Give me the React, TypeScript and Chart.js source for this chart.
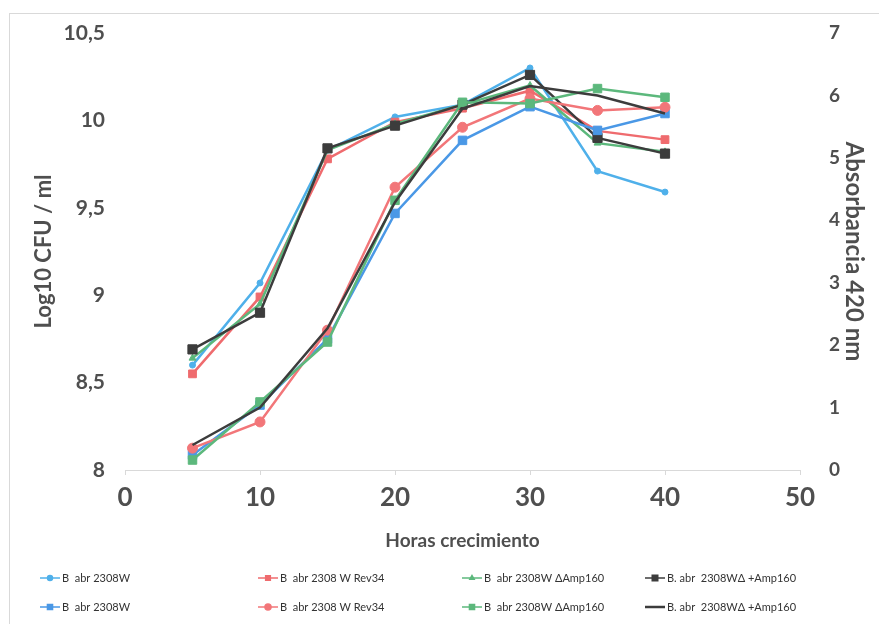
import React, { useEffect, useRef } from "react";
import { Chart, registerables } from "chart.js";
import { drawPoint } from "chart.js/helpers";

Chart.register(...registerables);

// ---- data ----
const hours = [5, 10, 15, 20, 25, 30, 35, 40];

// Log10 CFU / ml (left axis)
const cfu2308W = [8.6, 9.07, 9.83, 10.02, 10.09, 10.3, 9.71, 9.59];
const cfuRev34 = [8.55, 8.99, 9.78, 9.99, 10.07, 10.17, 9.94, 9.89];
const cfuDelta = [8.64, 8.95, 9.83, 9.98, 10.09, 10.2, 9.87, 9.82];
const cfuDeltaAmp = [8.69, 8.9, 9.84, 9.97, 10.09, 10.26, 9.9, 9.81];

// Absorbancia 420 nm (right axis)
const abs2308W = [0.24, 1.04, 2.1, 4.11, 5.28, 5.82, 5.44, 5.71];
const absRev34 = [0.35, 0.77, 2.24, 4.53, 5.49, 5.95, 5.76, 5.81];
const absDelta = [0.16, 1.09, 2.05, 4.32, 5.89, 5.87, 6.11, 5.97];
const absDeltaAmp = [0.4, 1.0, 2.27, 4.29, 5.79, 6.15, 6.0, 5.71];

const labelW = "B  abr 2308W";
const labelRev = "B  abr 2308 W Rev34";
const labelDelta = "B  abr 2308W \u0394Amp160";
const labelDeltaAmp = "B. abr  2308W\u0394 +Amp160";

const xTicks = [0, 10, 20, 30, 40, 50];
const cfuTicks = [8, 8.5, 9, 9.5, 10, 10.5];
const absTicks = [0, 1, 2, 3, 4, 5, 6, 7];

const xTitle = "Horas crecimiento";
const leftTitle = "Log10 CFU / ml";
const rightTitle = "Absorbancia 420 nm";

// ---- styles ----
const C_LBLUE = "#4fb0ea";
const C_BLUE = "#4a98e6";
const C_RED = "#ef6b6e";
const C_RED2 = "#f27679";
const C_GREEN = "#5cb87c";
const C_BLACK = "#3c3c3c";
const TXT = "#4f4f4f";
const FONT = "Lato, 'Open Sans', sans-serif";

const LEGEND_COLS = [40, 258, 462, 645];
const LEGEND_ROWS = [578, 607];
const LEGEND_LINE = 20;

const pts = (ys: number[]) => hours.map((h, i) => ({ x: h, y: ys[i] }));

const legendPlugin = {
  id: "columnLegend",
  afterDraw(chart: any) {
    const ctx = chart.ctx as CanvasRenderingContext2D;
    chart.data.datasets.forEach((ds: any, i: number) => {
      const row = Math.floor(i / 4);
      const col = i % 4;
      const x = LEGEND_COLS[col];
      const y = LEGEND_ROWS[row];
      ctx.save();
      ctx.strokeStyle = ds.borderColor;
      ctx.lineWidth = ds.pointRadius > 0 ? 1.5 : 2.5;
      ctx.beginPath();
      ctx.moveTo(x, y);
      ctx.lineTo(x + LEGEND_LINE, y);
      ctx.stroke();
      if (ds.pointRadius > 0) {
        ctx.fillStyle = ds.pointBackgroundColor;
        ctx.strokeStyle = ds.pointBorderColor;
        drawPoint(
          ctx,
          {
            pointStyle: ds.pointStyle,
            radius: Math.max(2.5, ds.pointRadius * 0.6),
            rotation: 0,
            borderWidth: 1,
          } as any,
          x + LEGEND_LINE / 2,
          y
        );
      }
      ctx.fillStyle = "#333333";
      ctx.font = `11px ${FONT}`;
      ctx.textBaseline = "middle";
      ctx.textAlign = "left";
      ctx.fillText(ds.label, x + LEGEND_LINE + 2, y);
      ctx.restore();
    });
  },
};

function makeDs(
  label: string,
  ys: number[],
  color: string,
  axis: string,
  pointStyle: string,
  radius: number,
  order: number
) {
  return {
    label,
    data: pts(ys),
    yAxisID: axis,
    borderColor: color,
    backgroundColor: color,
    pointBackgroundColor: color,
    pointBorderColor: color,
    pointStyle,
    pointRadius: radius,
    pointBorderWidth: 1,
    borderWidth: 2.5,
    tension: 0,
    order,
  };
}

export default function App() {
  const ref = useRef<HTMLCanvasElement | null>(null);

  useEffect(() => {
    if (!ref.current) return;
    const chart = new Chart(ref.current, {
      type: "line",
      data: {
        datasets: [
          makeDs(labelW, cfu2308W, C_LBLUE, "yL", "circle", 3, 8),
          makeDs(labelRev, cfuRev34, C_RED, "yL", "rect", 5.5, 7),
          makeDs(labelDelta, cfuDelta, C_GREEN, "yL", "triangle", 4, 6),
          makeDs(labelDeltaAmp, cfuDeltaAmp, C_BLACK, "yL", "rect", 6.5, 5),
          makeDs(labelW, abs2308W, C_BLUE, "yR", "rect", 6, 4),
          makeDs(labelRev, absRev34, C_RED2, "yR", "circle", 5, 3),
          makeDs(labelDelta, absDelta, C_GREEN, "yR", "rect", 6, 2),
          makeDs(labelDeltaAmp, absDeltaAmp, C_BLACK, "yR", "circle", 0, 1),
        ] as any,
      },
      options: {
        responsive: false,
        animation: false,
        devicePixelRatio: 1,
        layout: { padding: { left: 29, right: 9, top: 33, bottom: 70 } },
        plugins: {
          legend: { display: false },
          tooltip: { enabled: false },
        },
        scales: {
          x: {
            type: "linear",
            min: 0,
            max: 50,
            afterBuildTicks: (s: any) => {
              s.ticks = xTicks.map((v) => ({ value: v }));
            },
            afterFit: (s: any) => {
              s.height = 84;
            },
            border: { display: true, color: "#d9d9d9", width: 1 },
            grid: {
              display: true,
              drawOnChartArea: false,
              drawTicks: true,
              tickLength: 5,
              color: "#d9d9d9",
            },
            ticks: {
              color: TXT,
              padding: 7,
              font: { family: FONT, size: 26, weight: "bold" },
            },
            title: {
              display: true,
              text: xTitle,
              color: TXT,
              padding: { top: 6, bottom: 2 },
              font: { family: FONT, size: 19, weight: "bold" },
            },
          },
          yL: {
            type: "linear",
            position: "left",
            min: 8,
            max: 10.5,
            afterBuildTicks: (s: any) => {
              s.ticks = cfuTicks.map((v) => ({ value: v }));
            },
            afterFit: (s: any) => {
              s.width = 96;
            },
            border: { display: false },
            grid: { display: false, drawTicks: true, tickLength: 17 },
            ticks: {
              color: TXT,
              padding: 3,
              font: { family: FONT, size: 21, weight: "bold" },
              callback: (v: any) => String(v).replace(".", ","),
            },
            title: {
              display: true,
              text: leftTitle,
              color: TXT,
              padding: { top: 2, bottom: 2 },
              font: { family: FONT, size: 22, weight: "bold" },
            },
          },
          yR: {
            type: "linear",
            position: "right",
            min: 0,
            max: 7,
            afterBuildTicks: (s: any) => {
              s.ticks = absTicks.map((v) => ({ value: v }));
            },
            afterFit: (s: any) => {
              s.width = 70;
            },
            border: { display: false },
            grid: { display: false, drawTicks: true, tickLength: 26 },
            ticks: {
              color: TXT,
              padding: 3,
              font: { family: FONT, size: 19, weight: "bold" },
            },
            title: {
              display: true,
              text: rightTitle,
              color: TXT,
              padding: { top: 2, bottom: 2 },
              font: { family: FONT, size: 24, weight: "bold" },
            },
          },
        },
      } as any,
      plugins: [legendPlugin],
    });
    return () => chart.destroy();
  }, []);

  return (
    <div
      style={{
        position: "fixed",
        left: 0,
        top: 0,
        width: 879,
        height: 624,
        background: "#ffffff",
        overflow: "hidden",
      }}
    >
      <div
        style={{
          position: "absolute",
          left: 9,
          top: 13,
          width: 900,
          height: 700,
          borderLeft: "1px solid #d9d9d9",
          borderTop: "1px solid #d9d9d9",
        }}
      />
      <canvas
        ref={ref}
        width={879}
        height={624}
        style={{ position: "absolute", left: 0, top: 0 }}
      />
    </div>
  );
}
